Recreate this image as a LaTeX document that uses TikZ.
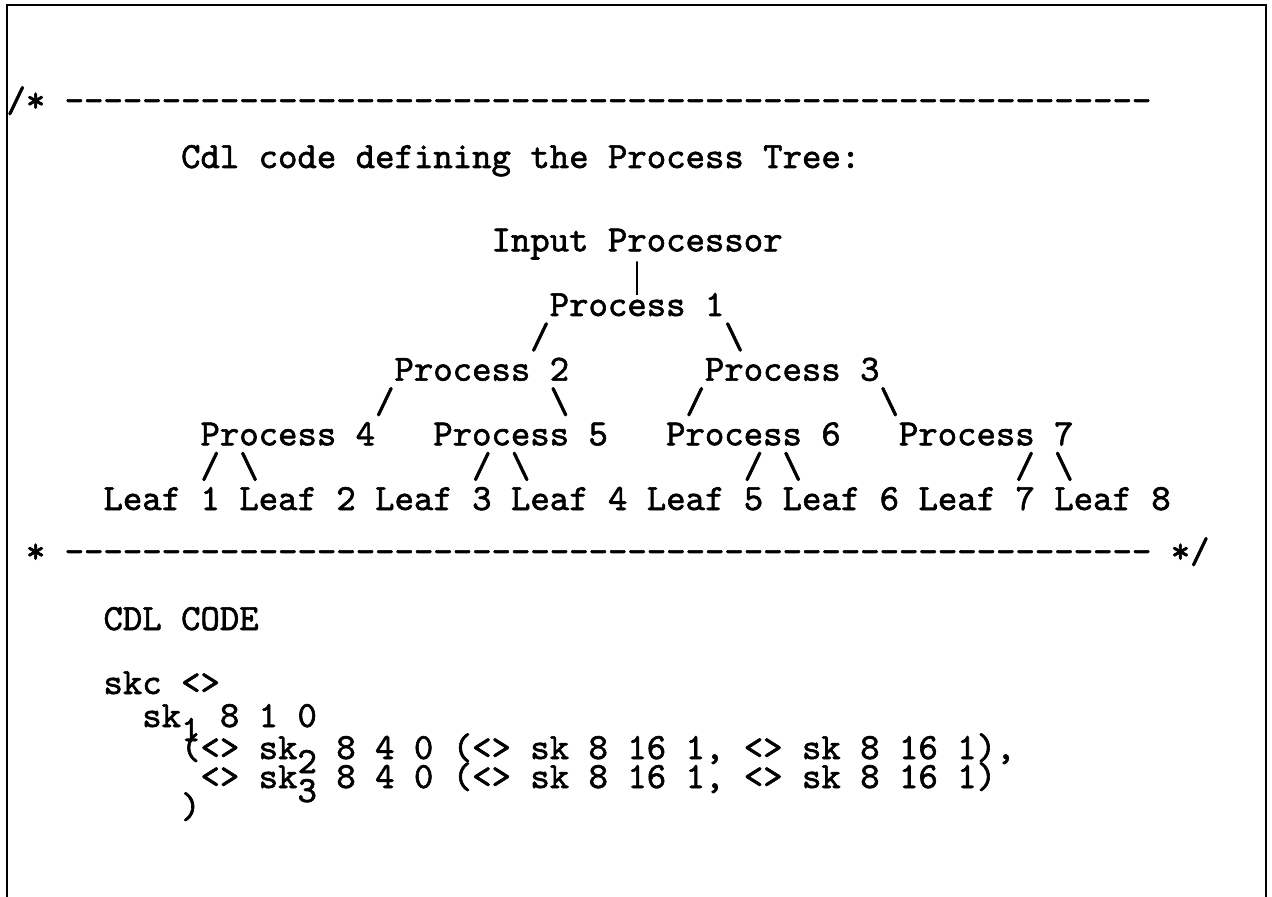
\documentclass[tikz,border=0pt]{standalone}
\usepackage{fontspec}
\setmonofont{lmmono10-regular.otf}[FakeBold=1.6]
\usetikzlibrary{calc}
\begin{document}
\def\colx#1{{103.5+19.4*(#1)}}
\begin{tikzpicture}[x=0.5pt,y=-0.5pt,
  tt/.style={anchor=base west,inner sep=0pt,outer sep=0pt,font=\ttfamily\fontsize{18.48}{20}\selectfont},
  frame/.style={line width=1.3pt},
  bar/.style={line width=0.8pt}]
\useasboundingbox (0,0) rectangle (1272,897);
\draw[frame] (7,897) -- (7,5) -- (1266,5) -- (1266,897);
% comment header
\node[tt] (open) at (\colx{-5},112) {/* --------------------------------------------------------};
\node[tt] (title) at (\colx{4},168) {Cdl code defining the Process Tree:};
% tree
\node[tt] (ip) at (\colx{20},251.3) {Input Processor};
\node[tt] (p1) at (\colx{23},316) {Process 1};
\draw[bar] ($(ip.base)+(0,10)$) -- ($(p1.base)+(0,-21)$);
\node[tt] (s1a) at (\colx{22},348.3) {/};
\node[tt] (s1b) at (\colx{32},348.3) {\textbackslash};
\node[tt] (p2) at (\colx{15},380.7) {Process 2};
\node[tt] (p3) at (\colx{31},380.7) {Process 3};
\node[tt] (s2a) at (\colx{14},413) {/};
\node[tt] (s2b) at (\colx{23},413) {\textbackslash};
\node[tt] (s3a) at (\colx{30},413) {/};
\node[tt] (s3b) at (\colx{40},413) {\textbackslash};
\node[tt] (p4) at (\colx{5},445.3) {Process 4};
\node[tt] (p5) at (\colx{17},445.3) {Process 5};
\node[tt] (p6) at (\colx{29},445.3) {Process 6};
\node[tt] (p7) at (\colx{41},445.3) {Process 7};
\node[tt] (s4a) at (\colx{5},477.7) {/};
\node[tt] (s4b) at (\colx{7},477.7) {\textbackslash};
\node[tt] (s5a) at (\colx{19},477.7) {/};
\node[tt] (s5b) at (\colx{21},477.7) {\textbackslash};
\node[tt] (s6a) at (\colx{33},477.7) {/};
\node[tt] (s6b) at (\colx{35},477.7) {\textbackslash};
\node[tt] (s7a) at (\colx{47},477.7) {/};
\node[tt] (s7b) at (\colx{49},477.7) {\textbackslash};
\node[tt] (leaves) at (\colx{0},510) {Leaf 1 Leaf 2 Leaf 3 Leaf 4 Leaf 5 Leaf 6 Leaf 7 Leaf 8};
\node[tt] (close) at (\colx{-4},563) {* -------------------------------------------------------- */};
% code
\node[tt] (cdl) at (\colx{0},630) {CDL CODE};
\node[tt] (c1) at (\colx{0},694) {skc <>};
\node[tt] (c2) at (\colx{2},727) {sk\raisebox{-7pt}{1} 8 1 0};
\node[tt] (c3) at (\colx{4},759) {(<> sk\raisebox{-7pt}{2} 8 4 0 (<> sk 8 16 1, <> sk 8 16 1),};
\node[tt] (c4) at (\colx{5},788) {<> sk\raisebox{-7pt}{3} 8 4 0 (<> sk 8 16 1, <> sk 8 16 1)};
\node[tt] (c5) at (\colx{4},818) {)};
\end{tikzpicture}
\end{document}
